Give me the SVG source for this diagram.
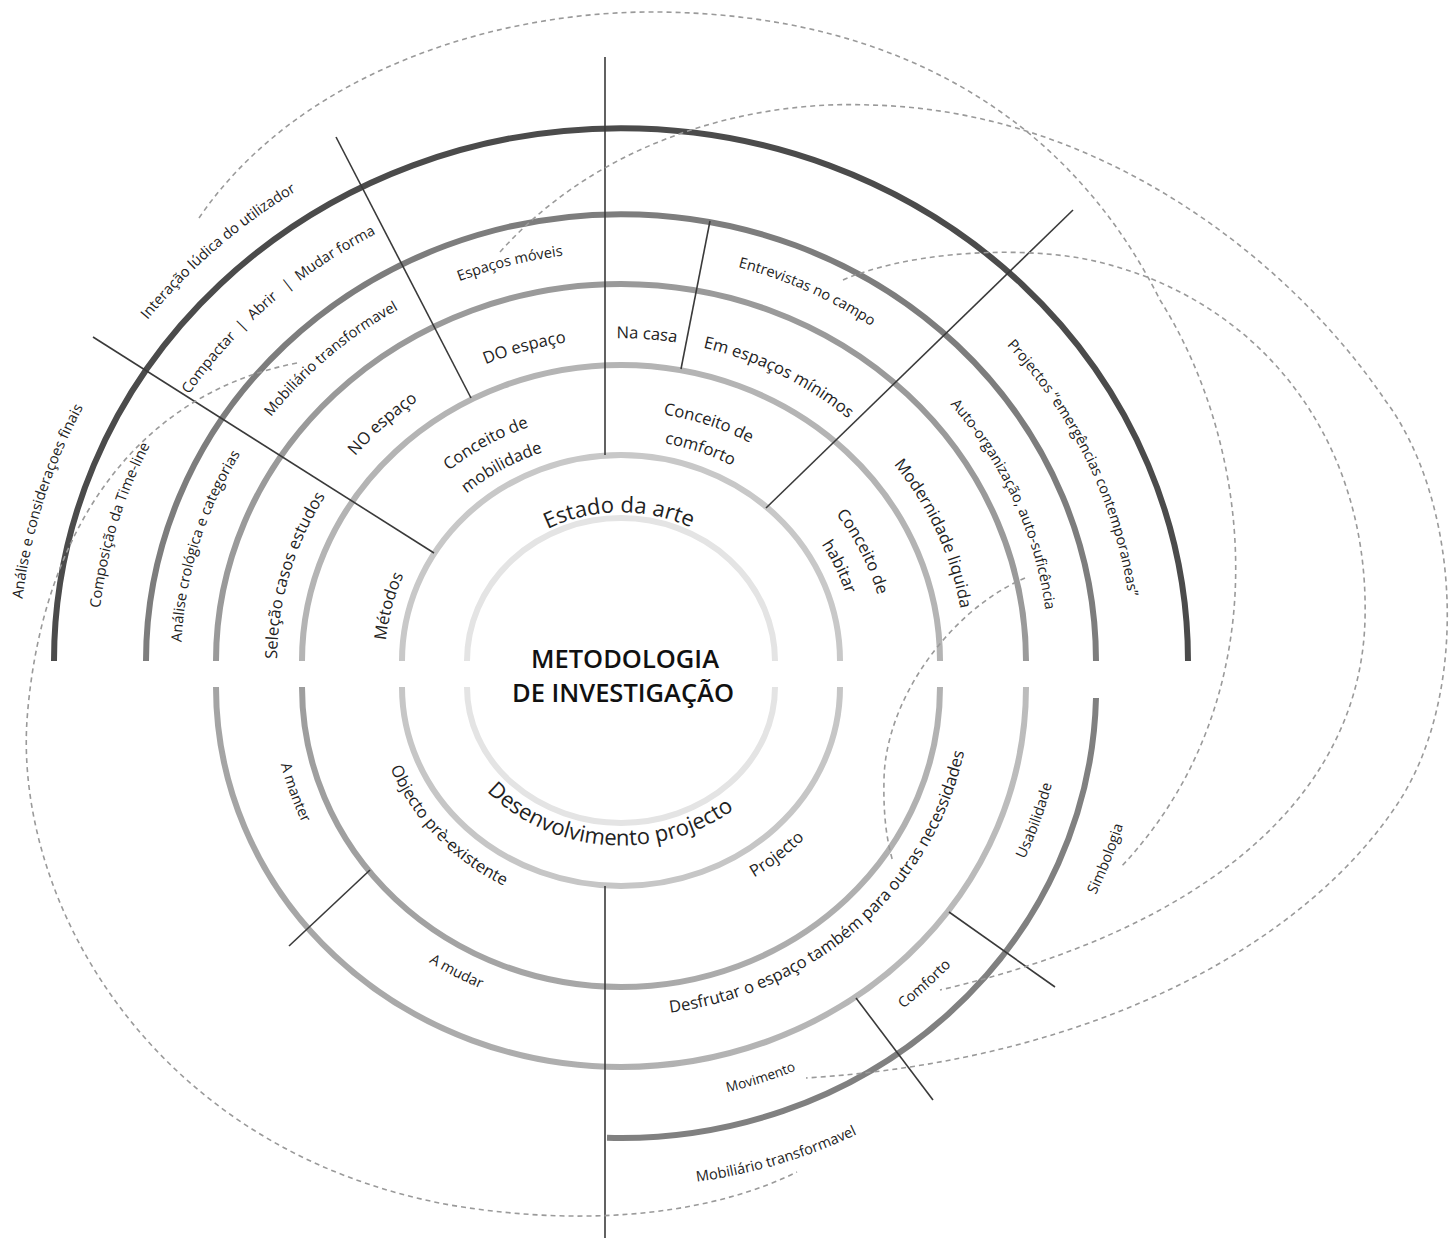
<svg xmlns="http://www.w3.org/2000/svg" width="1450" height="1238" viewBox="0 0 1450 1238">
<style>
text { font-family: "Open Sans", "Liberation Sans", sans-serif; fill: #222; }
.s { font-size: 14.6px; }
.xs { font-size: 13.6px; }
.m { font-size: 16.6px; }
.l { font-size: 22px; }
.title { font-size: 25.5px; font-weight: 600; fill: #111; }
.ring { fill: none; stroke-width: 6; }
.div { fill: none; stroke: #3a3a3a; stroke-width: 1.6; }
.dash { fill: none; stroke: #9a9a9a; stroke-width: 1.6; stroke-dasharray: 5 4; }
</style>
<defs>
<linearGradient id="g3" gradientUnits="userSpaceOnUse" x1="302" y1="0" x2="940" y2="0"><stop offset="0" stop-color="#9e9e9e"/><stop offset="1" stop-color="#b2b2b2"/></linearGradient>
<linearGradient id="g4" gradientUnits="userSpaceOnUse" x1="216" y1="0" x2="1026" y2="0"><stop offset="0" stop-color="#a4a4a4"/><stop offset="1" stop-color="#bcbcbc"/></linearGradient>
<path id="T602" d="M28.14,759.05 A602,564.68 0 1 1 1213.86,759.05"/>
<path id="T597" d="M33.07,758.24 A597,560 0 1 1 1208.93,758.24"/>
<path id="T524" d="M104.96,746.35 A524,491.51 0 1 1 1137.04,746.35"/>
<path id="T517" d="M111.85,745.21 A517,484.95 0 1 1 1130.15,745.21"/>
<path id="T512" d="M116.78,744.39 A512,480.26 0 1 1 1125.22,744.39"/>
<path id="T440" d="M187.68,732.67 A440,412.72 0 1 1 1054.32,732.67"/>
<path id="T436" d="M191.62,732.02 A436,408.97 0 1 1 1050.38,732.02"/>
<path id="T428" d="M199.5,730.71 A428,401.46 0 1 1 1042.5,730.71"/>
<path id="T344" d="M282.23,717.03 A344,322.67 0 1 1 959.77,717.03"/>
<path id="T266" d="M359.04,704.33 A266,249.51 0 1 1 882.96,704.33"/>
<path id="T236" d="M388.59,699.44 A236,221.37 0 1 1 853.41,699.44"/>
<path id="T159" d="M464.42,686.82 A159,148.67 0 1 1 777.58,686.82"/>
<path id="B178" d="M445.7,659.49 A178,158.42 0 1 0 796.3,659.49"/>
<path id="B247" d="M377.75,647.75 A247,226 0 1 0 864.25,647.75"/>
<path id="B350" d="M276.32,629.87 A350,329 0 1 0 965.68,629.87"/>
<path id="B443" d="M184.73,614.54 A443,417.31 0 1 0 1057.27,614.54"/>
<path id="B523" d="M105.94,601 A523,495.28 0 1 0 1136.06,601"/>
<path id="B528" d="M101.02,600.17 A528,500.02 0 1 0 1140.98,600.17"/>
</defs>

<g id="rings">
<path class="ring" stroke="#4b4b4b" stroke-width="6.5" d="M54,661 A567,533 0 0 1 1188,661"/>
<path class="ring" stroke="#7d7d7d" d="M146,661 A475,447 0 0 1 1096,661"/>
<path class="ring" stroke="#9a9a9a" d="M216,661 A405,377 0 0 1 1026,661"/>
<path class="ring" stroke="#b4b4b4" d="M302,661 A319,296 0 0 1 940,661"/>
<path class="ring" stroke="#c8c8c8" d="M402,661 A219,206 0 0 1 840,661"/>
<path class="ring" stroke="#e4e4e4" d="M467,661 A154,143 0 0 1 775,661"/>
<path class="ring" stroke="#e4e4e4" d="M467,687 A154,136 0 0 0 775,687"/>
<path class="ring" stroke="#c6c6c6" d="M402,687 A219,199 0 0 0 840,687"/>
<path class="ring" stroke="url(#g3)" d="M302,687 A319,300 0 0 0 940,687"/>
<path class="ring" stroke="url(#g4)" d="M216,687 A405,380 0 0 0 1026,687"/>
<path class="ring" stroke="#808080" d="M1096,698 A475,451 0 0 1 607,1137.8"/>
</g>

<g id="connectors">
<g id="dividers">
<path class="div" d="M605,57 L605,455"/>
<path class="div" d="M605,886 L605,1238"/>
<path class="div" d="M336,137 L471,398"/>
<path class="div" d="M93,337 L434,553"/>
<path class="div" d="M710,221 L681,369"/>
<path class="div" d="M1073,210 L766,508"/>
<path class="div" d="M370,870 L289,946"/>
<path class="div" d="M949,912 L1055,987"/>
<path class="div" d="M856,998 L933,1100"/>
</g>
<path class="dash" d="M199,218 C300,70 500,10 660,12 C900,15 1070,120 1160,300 C1255,450 1280,700 1120,868"/>
<path class="dash" d="M500,252 C600,140 750,100 870,105 C1100,110 1290,260 1385,400 C1460,500 1470,690 1400,800 C1310,940 1100,1060 806,1078"/>
<path class="dash" d="M843,280 C900,255 1000,245 1080,258 C1250,290 1370,430 1365,620 C1360,800 1200,930 940,990"/>
<path class="dash" d="M297,363 C130,395 40,540 27,720 C15,900 150,1150 450,1205 C600,1230 720,1210 797,1172"/>
<path class="dash" d="M1025,578 C950,610 885,700 884,780 C883,820 888,845 893,862"/>
</g>

<g id="center">
<text class="title" x="625" y="668" text-anchor="middle">METODOLOGIA</text>
<text class="title" x="623" y="702" text-anchor="middle">DE INVESTIGAÇÃO</text>
</g>

<g id="estado-da-arte"><text class="l" text-anchor="middle"><textPath href="#T159" startOffset="49.64%">Estado da arte</textPath></text></g>
<g id="desenvolvimento-projecto"><text class="l" text-anchor="middle"><textPath href="#B178" startOffset="47.61%">Desenvolvimento projecto</textPath></text></g>

<g id="conceito-mobilidade">
<text class="m" text-anchor="middle"><textPath href="#T266" startOffset="34.42%">Conceito de</textPath></text>
<text class="m" text-anchor="middle"><textPath href="#T236" startOffset="34.52%">mobilidade</textPath></text>
</g>
<g id="conceito-comforto">
<text class="m" text-anchor="middle"><textPath href="#T266" startOffset="59.85%">Conceito de</textPath></text>
<text class="m" text-anchor="middle"><textPath href="#T236" startOffset="60.0%">comforto</textPath></text>
</g>
<g id="conceito-habitar">
<text class="m" text-anchor="middle"><textPath href="#T266" startOffset="82.59%">Conceito de</textPath></text>
<text class="m" text-anchor="middle"><textPath href="#T236" startOffset="83.09%">habitar</textPath></text>
</g>
<g id="metodos"><text class="m" text-anchor="middle"><textPath href="#T236" startOffset="11.72%">Métodos</textPath></text></g>

<g id="selecao"><text class="m" text-anchor="middle"><textPath href="#T344" startOffset="12.46%">Seleção casos estudos</textPath></text></g>
<g id="no-espaco"><text class="m" text-anchor="middle"><textPath href="#T344" startOffset="27.79%">NO espaço</textPath></text></g>
<g id="do-espaco"><text class="m" text-anchor="middle"><textPath href="#T344" startOffset="41.64%">DO espaço</textPath></text></g>
<g id="na-casa"><text class="m" text-anchor="middle"><textPath href="#T344" startOffset="52.22%">Na casa</textPath></text></g>
<g id="em-espacos-minimos"><text class="m" text-anchor="middle"><textPath href="#T344" startOffset="64.16%">Em espaços mínimos</textPath></text></g>
<g id="modernidade"><text class="m" text-anchor="middle"><textPath href="#T344" startOffset="83.68%">Modernidade liquida</textPath></text></g>

<g id="analise-crologica"><text class="s" text-anchor="middle"><textPath href="#T440" startOffset="12.85%">Análise crológica e categorias</textPath></text></g>
<g id="mobiliario-top"><text class="s" text-anchor="middle"><textPath href="#T436" startOffset="28.49%">Mobiliário transformavel</textPath></text></g>
<g id="espacos-moveis"><text class="s" text-anchor="middle"><textPath href="#T436" startOffset="42.41%">Espaços móveis</textPath></text></g>
<g id="entrevistas"><text class="s" text-anchor="middle"><textPath href="#T436" startOffset="63.03%">Entrevistas no campo</textPath></text></g>
<g id="auto-organizacao"><text class="s" text-anchor="middle"><textPath href="#T428" startOffset="83.63%">Auto-organização, auto-suficência</textPath></text></g>

<g id="composicao"><text class="s" text-anchor="middle"><textPath href="#T524" startOffset="12.70%">Composição da Time-line</textPath></text></g>
<g id="compactar"><text class="s" text-anchor="middle"><textPath href="#T517" startOffset="28.29%">Compactar&#160;&#160;|&#160;&#160;Abrir&#160;&#160;&#160;|&#160;&#160;Mudar forma</textPath></text></g>
<g id="projectos"><text class="s" text-anchor="middle"><textPath href="#T512" startOffset="83.18%">Projectos “emergências contemporaneas”</textPath></text></g>

<g id="analise-finais"><text class="s" text-anchor="middle"><textPath href="#T602" startOffset="12.90%">Análise e consideraçoes finais</textPath></text></g>
<g id="interacao"><text class="s" text-anchor="middle"><textPath href="#T597" startOffset="28.14%">Interação lúdica do utilizador</textPath></text></g>

<g id="objecto"><text class="m" text-anchor="middle"><textPath href="#B247" startOffset="25.09%">Objecto prè-existente</textPath></text></g>
<g id="projecto"><text class="m" text-anchor="middle"><textPath href="#B247" startOffset="70.84%">Projecto</textPath></text></g>

<g id="a-manter"><text class="s" text-anchor="middle"><textPath href="#B350" startOffset="14.13%">A manter</textPath></text></g>
<g id="a-mudar"><text class="s" text-anchor="middle"><textPath href="#B350" startOffset="35.35%">A mudar</textPath></text></g>
<g id="desfrutar"><text class="m" text-anchor="middle"><textPath href="#B350" startOffset="71.89%">Desfrutar o espaço também para outras necessidades</textPath></text></g>

<g id="usabilidade"><text class="s" text-anchor="middle"><textPath href="#B443" startOffset="85.91%">Usabilidade</textPath></text></g>
<g id="comforto"><text class="s" text-anchor="middle"><textPath href="#B443" startOffset="72.43%">Comforto</textPath></text></g>
<g id="movimento"><text class="xs" text-anchor="middle"><textPath href="#B443" startOffset="59.58%">Movimento</textPath></text></g>

<g id="simbologia"><text class="s" text-anchor="middle"><textPath href="#B523" startOffset="85.09%">Simbologia</textPath></text></g>
<g id="mobiliario-bottom"><text class="s" text-anchor="middle"><textPath href="#B528" startOffset="58.94%">Mobiliário transformavel</textPath></text></g>
</svg>
